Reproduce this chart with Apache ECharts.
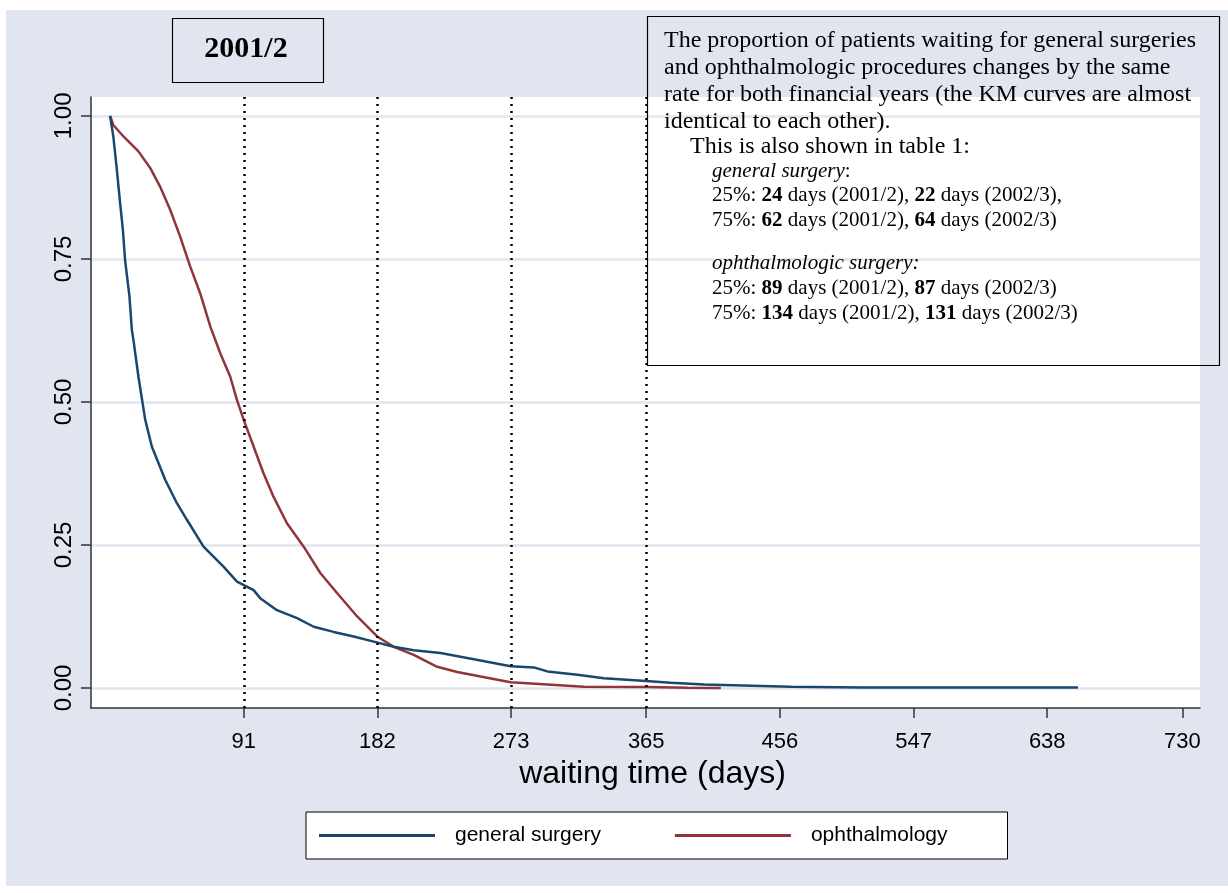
<!DOCTYPE html>
<html><head><meta charset="utf-8">
<script src="https://cdn.jsdelivr.net/npm/echarts@6/dist/echarts.min.js"></script>
<style>html,body{margin:0;padding:0;background:#fff}#c{width:1228px;height:893px}</style>
</head><body><div id="c"></div>
<script>
// General surgery KM curve (days, survival)
const gsDays = [0, 2.2, 4.6, 6.8, 8.7, 10.2, 13.2, 14.8, 15.9, 19.3, 23.9, 28.4, 37.5, 45.5, 52.3, 63.6, 77.2, 86.4, 97.7, 102.2, 113.6, 127.3, 138.6, 152.2, 165.8, 179.5, 193.1, 206.7, 224.9, 252.2, 272.6, 288.5, 297.7, 318.1, 336.2, 364.7, 381.7, 404.4, 463.5, 512.4, 658.9];
const gsSurv = [1.0, 0.964, 0.906, 0.848, 0.801, 0.748, 0.684, 0.626, 0.608, 0.544, 0.469, 0.422, 0.364, 0.323, 0.294, 0.247, 0.212, 0.186, 0.171, 0.157, 0.136, 0.122, 0.107, 0.098, 0.090, 0.081, 0.072, 0.066, 0.061, 0.048, 0.038, 0.036, 0.029, 0.023, 0.017, 0.012, 0.009, 0.006, 0.002, 0.001, 0.001];
// Ophthalmology KM curve (days, survival)
const ophDays = [0, 2.2, 9.1, 19.3, 27.3, 34.1, 40.9, 47.7, 54.5, 61.3, 68.2, 75.0, 81.8, 86.4, 90.9, 97.7, 104.5, 111.3, 120.4, 131.8, 143.1, 154.5, 168.2, 181.8, 193.1, 206.7, 222.7, 236.3, 252.2, 272.6, 297.7, 322.6, 364.7, 393.1, 415.8];
const ophSurv = [1.0, 0.984, 0.964, 0.938, 0.909, 0.876, 0.836, 0.789, 0.737, 0.690, 0.632, 0.585, 0.544, 0.503, 0.469, 0.422, 0.375, 0.334, 0.288, 0.247, 0.201, 0.166, 0.125, 0.090, 0.072, 0.058, 0.037, 0.028, 0.020, 0.010, 0.006, 0.002, 0.0015, 0.0005, 0.0];
const xTicks = [91, 182, 273, 365, 456, 547, 638, 730];
const yTicks = [0, 0.25, 0.5, 0.75, 1];
const refLines = [91, 182, 273, 365];
const seriesNames = ['general surgery', 'ophthalmology'];
const titleText = '2001/2';
const xTitle = 'waiting time (days)';
const noteMain = [
  'The proportion of patients waiting for general surgeries',
  'and ophthalmologic procedures changes by the same',
  'rate for both financial years (the KM curves are almost',
  'identical to each other).'
];
const noteSub = 'This is also shown in table 1:';
const noteGsHead = 'general surgery';
const noteGs = ['25%: {b|24} days (2001/2), {b|22} days (2002/3),', '75%: {b|62} days (2001/2), {b|64} days (2002/3)'];
const noteOpHead = 'ophthalmologic surgery:';
const noteOp = ['25%: {b|89} days (2001/2), {b|87} days (2002/3)', '75%: {b|134} days (2001/2), {b|131} days (2002/3)'];

const SANS = "'Liberation Sans', Arial, sans-serif";
const SERIF = "'Liberation Serif', 'Times New Roman', serif";
const BG = '#e0e5f0';
const BLUE = '#1a476f';
const RED = '#90353b';

const zip = (a, b) => a.map((v, i) => [v, b[i]]);

const chart = echarts.init(document.getElementById('c'));

const serifText = (x, y, text, size, extra) => ({
  type: 'text', left: x, top: y, z: 100,
  style: Object.assign({
    text: text, fill: '#000', font: size + 'px ' + SERIF,
    rich: {
      b: { fontWeight: 'bold', fontSize: size, fontFamily: SERIF, fill: '#000' }
    }
  }, extra || {})
});
const italicRich = size => ({ rich: { i: { fontStyle: 'italic', fontSize: size, fontFamily: SERIF, fill: '#000' } } });

const graphics = [
  // white outer margins
  { type: 'rect', left: 0, top: 0, shape: { width: 1228, height: 10 }, style: { fill: '#fff' }, silent: true },
  { type: 'rect', left: 0, top: 0, shape: { width: 6, height: 893 }, style: { fill: '#fff' }, silent: true },
  { type: 'rect', left: 0, top: 886, shape: { width: 1228, height: 7 }, style: { fill: '#fff' }, silent: true },
  // title box
  { type: 'rect', left: 170, top: 16, z: 100, shape: { width: 151, height: 64 }, style: { fill: 'none', stroke: '#000', lineWidth: 1.2 } },
  { type: 'text', x: 246, y: 49, z: 100,
    style: { text: titleText, font: 'bold 30px ' + SERIF, fill: '#000', align: 'center', verticalAlign: 'middle' } },
  // annotation box
  { type: 'rect', left: 645, top: 14, z: 100, shape: { width: 572, height: 349 }, style: { fill: 'none', stroke: '#000', lineWidth: 1.2 } }
];
const mainY = [29, 56, 83, 110];
noteMain.forEach((t, i) => graphics.push(serifText(664, mainY[i], t, 24)));
graphics.push(serifText(690, 135, noteSub, 24));
graphics.push(serifText(712, 161, '{i|' + noteGsHead + '}:', 21, italicRich(21)));
graphics.push(serifText(712, 185, noteGs[0], 21));
graphics.push(serifText(712, 210, noteGs[1], 21));
graphics.push(serifText(712, 253, '{i|' + noteOpHead + '}', 21, italicRich(21)));
graphics.push(serifText(712, 278, noteOp[0], 21));
graphics.push(serifText(712, 303, noteOp[1], 21));

chart.setOption({
  backgroundColor: BG,
  animation: false,
  grid: { left: 91, right: 28, top: 97, bottom: 185, show: true, backgroundColor: '#fff', borderWidth: 0 },
  xAxis: {
    type: 'value', min: -13, max: 742,
    name: xTitle, nameLocation: 'middle', nameGap: 49,
    nameTextStyle: { fontFamily: SANS, fontSize: 32, color: '#000', padding: [0, 0, 0, 14] },
    axisLine: { show: true, onZero: false, lineStyle: { color: '#333', width: 1.5 } },
    axisTick: { show: true, length: 10, customValues: xTicks, lineStyle: { color: '#333', width: 1.5 } },
    axisLabel: { customValues: xTicks, margin: 23, fontFamily: SANS, fontSize: 22, color: '#000' },
    splitLine: { show: false }
  },
  yAxis: {
    type: 'value', min: -0.035, max: 1.033,
    axisLine: { show: true, onZero: false, lineStyle: { color: '#333', width: 1.5 } },
    axisTick: { show: true, length: 10, customValues: yTicks, lineStyle: { color: '#333', width: 1.5 } },
    axisLabel: { customValues: yTicks, rotate: 90, margin: 15, fontFamily: SANS, fontSize: 24, color: '#000',
      formatter: v => v.toFixed(2) },
    splitLine: { show: true, lineStyle: { color: BG, width: 2.5 } }
  },
  legend: {
    data: seriesNames, left: 306, top: 812, orient: 'horizontal',
    backgroundColor: '#fff', borderColor: '#000', borderWidth: 1,
    padding: [13, 60, 13, 13], itemGap: 74,
    icon: 'rect', itemWidth: 116, itemHeight: 3,
    textStyle: { fontFamily: SANS, fontSize: 21, color: '#000', padding: [0, 0, 0, 15] }
  },
  series: [
    {
      name: seriesNames[0], type: 'line', data: zip(gsDays, gsSurv), showSymbol: false, symbol: 'none',
      lineStyle: { color: BLUE, width: 2.5 }, itemStyle: { color: BLUE }, z: 3,
      markLine: {
        silent: true, symbol: 'none', label: { show: false },
        lineStyle: { color: '#000', type: [2, 5], width: 2.5 },
        data: refLines.map(v => ({ xAxis: v }))
      }
    },
    {
      name: seriesNames[1], type: 'line', data: zip(ophDays, ophSurv), showSymbol: false, symbol: 'none',
      lineStyle: { color: RED, width: 2.5 }, itemStyle: { color: RED }, z: 2
    }
  ],
  graphic: graphics
});
</script></body></html>
